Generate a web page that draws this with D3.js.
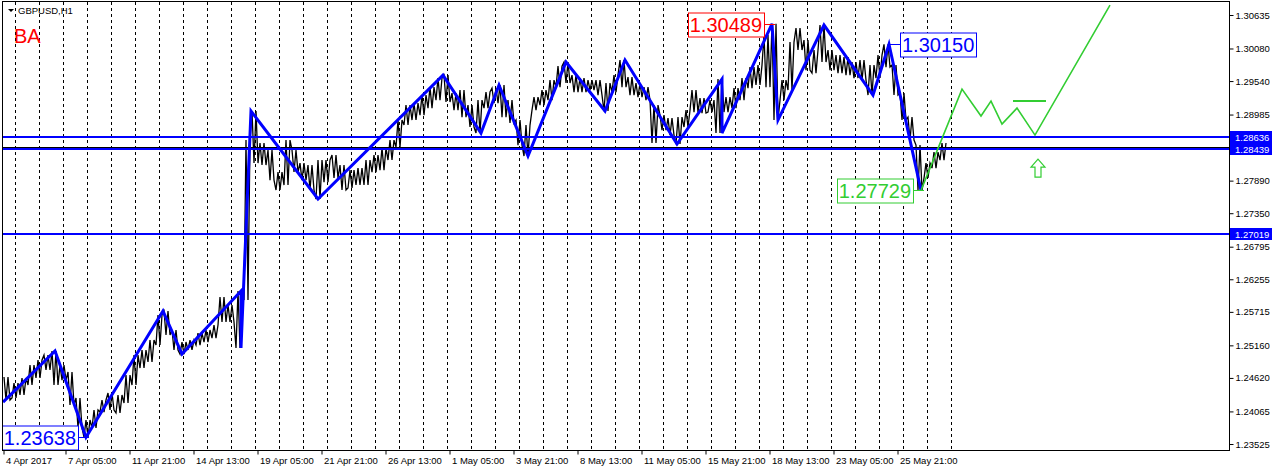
<!DOCTYPE html>
<html>
<head>
<meta charset="utf-8">
<script src="https://cdn.jsdelivr.net/npm/d3@7"></script>
<style>
body { margin: 0; background: #fff; }
svg { display: block; font-family: "Liberation Sans", Arial, sans-serif; }
</style>
</head>
<body>
<script>
var w = 1272;
var h = 468;
var plotLeft = 3, plotRight = 1229, plotTop = 2, plotBottom = 450;

// hourly bars grouped in blocks of 8 (high / low of each block)
var blockSize = 8;
var barHigh = [1.24635, 1.24536, 1.24619, 1.24834, 1.24917, 1.24999, 1.25066, 1.24834, 1.24718, 1.24287,
	1.23923, 1.24088, 1.24254, 1.24370, 1.24337, 1.24668, 1.24999, 1.25083, 1.25248, 1.25662,
	1.25728, 1.25414, 1.25215, 1.25248, 1.25364, 1.25414, 1.25497, 1.25961, 1.25828, 1.26060,
	1.28562, 1.29043, 1.28513, 1.28397, 1.28032, 1.28562, 1.28397, 1.28181, 1.28148, 1.28231,
	1.28231, 1.28314, 1.28148, 1.28065, 1.28098, 1.28231, 1.28314, 1.28430, 1.28562, 1.28894,
	1.29142, 1.29175, 1.29308, 1.29440, 1.29590, 1.29639, 1.29341, 1.29391, 1.29142, 1.29225,
	1.29358, 1.29424, 1.29474, 1.29225, 1.28894, 1.28811, 1.29275, 1.29391, 1.29556, 1.29788,
	1.29855, 1.29639, 1.29590, 1.29556, 1.29556, 1.29507, 1.29639, 1.29888, 1.29606, 1.29507,
	1.29440, 1.29142, 1.28976, 1.28927, 1.28943, 1.29059, 1.29391, 1.29258, 1.29225, 1.29573,
	1.29275, 1.29424, 1.29590, 1.29772, 1.29805, 1.30302, 1.30489, 1.29556, 1.30186, 1.30418,
	1.30219, 1.30054, 1.30468, 1.30054, 1.29971, 1.29938, 1.29855, 1.29888, 1.29805, 1.29971,
	1.30150, 1.29805, 1.29341, 1.28943, 1.28479, 1.28181, 1.28363, 1.28513];
var barLow = [1.24254, 1.24287, 1.24337, 1.24502, 1.24619, 1.24751, 1.24502, 1.24585, 1.24171, 1.23790,
	1.23638, 1.23790, 1.24055, 1.24088, 1.24039, 1.24204, 1.24502, 1.24784, 1.24884, 1.25165,
	1.25331, 1.25083, 1.25016, 1.25083, 1.25165, 1.25215, 1.25281, 1.25547, 1.25547, 1.25116,
	1.25911, 1.28181, 1.28148, 1.27899, 1.27734, 1.27817, 1.28032, 1.27899, 1.27734, 1.27585,
	1.27866, 1.27933, 1.27734, 1.27767, 1.27817, 1.27817, 1.28032, 1.28065, 1.28231, 1.28446,
	1.28811, 1.28894, 1.28976, 1.29092, 1.29225, 1.29192, 1.29059, 1.28943, 1.28778, 1.28678,
	1.29092, 1.29175, 1.28943, 1.28844, 1.28479, 1.28297, 1.29059, 1.29142, 1.29225, 1.29440,
	1.29507, 1.29358, 1.29358, 1.29391, 1.29308, 1.29043, 1.29358, 1.29440, 1.29308, 1.29275,
	1.29225, 1.28513, 1.28728, 1.28645, 1.28496, 1.28778, 1.29026, 1.29010, 1.29026, 1.28678,
	1.29026, 1.29092, 1.29225, 1.29424, 1.29474, 1.29440, 1.28894, 1.29225, 1.29391, 1.30054,
	1.29722, 1.29672, 1.29855, 1.29722, 1.29672, 1.29639, 1.29590, 1.29556, 1.29308, 1.29590,
	1.29772, 1.29308, 1.28894, 1.28562, 1.27729, 1.27933, 1.28098, 1.28231];

// zigzag (bar index, price)
var zzIndex = [0, 52, 83, 160, 179, 238, 238, 248, 315, 440, 478, 496, 525, 563, 602, 622, 674, 719, 719, 769, 775, 821, 870, 886, 918];
var zzPrice = [1.24220, 1.25066, 1.23638, 1.25728, 1.25016, 1.26060, 1.25116, 1.29043, 1.27585, 1.29639, 1.28678, 1.29474, 1.28297,
	1.29855, 1.29043, 1.29888, 1.28496, 1.29573, 1.28678, 1.30489, 1.28894, 1.30468, 1.29308, 1.30150, 1.27729];

// forecast path
var fcIndex = [918, 959, 978, 988, 999, 1014, 1032, 1107];
var fcPrice = [1.27729, 1.29407, 1.28960, 1.29208, 1.28827, 1.29092, 1.28645, 1.30799];
var fcFlatIndex = [1010, 1043];
var fcFlatPrice = 1.29208;
var arrowIndex = 1035;
var arrowPrice = 1.28247;

var levelPrices = [1.28636, 1.28439, 1.27019];
var bidPrice = 1.28450;

var markIndex = [769, 886, 918, 83];
var markPrice = [1.30489, 1.30150, 1.27729, 1.23638];
var markColor = ["#ff0000", "#0000ff", "#32cd32", "#0000ff"];
var markSide = ["left", "right", "left", "left"];

var yTicks = [1.30635, 1.30080, 1.29540, 1.28985, 1.27890, 1.27350, 1.26795, 1.26255, 1.25715, 1.25160, 1.24620, 1.24065, 1.23525];
var xTickIndex = [0, 62, 126, 190, 254, 318, 382, 446, 510, 574, 638, 702, 766, 830, 894];
var xTickLabels = ["4 Apr 2017", "7 Apr 05:00", "11 Apr 21:00", "14 Apr 13:00", "19 Apr 05:00", "21 Apr 21:00",
	"26 Apr 13:00", "1 May 05:00", "3 May 21:00", "8 May 13:00", "11 May 05:00", "15 May 21:00",
	"18 May 13:00", "23 May 05:00", "25 May 21:00"];
var lastBar = 946;

var xScale = d3.scaleLinear().domain([0, plotRight - plotLeft]).range([plotLeft, plotRight]);
var yScale = d3.scaleLinear().domain([1.23525, 1.30635]).range([444, 15]);

var svg = d3.select("body").append("svg")
	.attr("width", w)
	.attr("height", h);

var clip = svg.append("clipPath").attr("id", "plot")
	.append("rect")
	.attr("x", plotLeft).attr("y", plotTop)
	.attr("width", plotRight - plotLeft).attr("height", plotBottom - plotTop);

var plot = svg.append("g").attr("clip-path", "url(#plot)");

// day separators
var days = d3.range(12, lastBar + 6, 24);
plot.selectAll("line.grid")
	.data(days)
	.enter()
	.append("line")
	.attr("class", "grid")
	.attr("x1", function(d) { return xScale(d) + 0.5; })
	.attr("x2", function(d) { return xScale(d) + 0.5; })
	.attr("y1", plotTop)
	.attr("y2", plotBottom)
	.attr("stroke", "#000")
	.attr("stroke-dasharray", "3,3");

// price bars
var pts = [];
barHigh.forEach(function(hi, k) {
	var lo = barLow[k];
	var x0 = blockSize * k;
	var mid = (hi + lo) / 2;
	var next = k < barHigh.length - 1 ? (barHigh[k + 1] + barLow[k + 1]) / 2 : mid;
	var seq = next >= mid ? [lo, hi, lo, hi] : [hi, lo, hi, lo];
	seq.forEach(function(p, j) {
		pts.push([xScale(x0 + 1 + j * 2), yScale(p)]);
	});
});
plot.append("path")
	.attr("d", d3.line()(pts))
	.attr("fill", "none")
	.attr("stroke", "#000")
	.attr("stroke-width", 1.3);

// bid line
plot.append("line")
	.attr("x1", plotLeft).attr("x2", plotRight)
	.attr("y1", Math.round(yScale(bidPrice)) + 0.5)
	.attr("y2", Math.round(yScale(bidPrice)) + 0.5)
	.attr("stroke", "#000");

// horizontal levels
plot.selectAll("line.level")
	.data(levelPrices)
	.enter()
	.append("line")
	.attr("class", "level")
	.attr("x1", plotLeft).attr("x2", plotRight)
	.attr("y1", function(d) { return Math.round(yScale(d)) + 1; })
	.attr("y2", function(d) { return Math.round(yScale(d)) + 1; })
	.attr("stroke", "#0000ff")
	.attr("stroke-width", 2);

// zigzag
var zz = zzIndex.map(function(d, i) { return [xScale(d), yScale(zzPrice[i])]; });
plot.append("path")
	.attr("d", d3.line()(zz))
	.attr("fill", "none")
	.attr("stroke", "#0000ff")
	.attr("stroke-width", 3)
	.attr("stroke-linejoin", "miter");

// forecast
var fc = fcIndex.map(function(d, i) { return [xScale(d), yScale(fcPrice[i])]; });
plot.append("path")
	.attr("d", d3.line()(fc))
	.attr("fill", "none")
	.attr("stroke", "#32cd32")
	.attr("stroke-width", 1.6);
plot.append("line")
	.attr("x1", xScale(fcFlatIndex[0])).attr("x2", xScale(fcFlatIndex[1]))
	.attr("y1", yScale(fcFlatPrice)).attr("y2", yScale(fcFlatPrice))
	.attr("stroke", "#32cd32")
	.attr("stroke-width", 2);

// up arrow
var ax = xScale(arrowIndex), ay = yScale(arrowPrice);
plot.append("path")
	.attr("d", "M" + ax + "," + ay + " l-7,8 h4 v10 h6 v-10 h4 z")
	.attr("fill", "#fff")
	.attr("stroke", "#32cd32")
	.attr("stroke-width", 1.2);

// labels at swing points
markIndex.forEach(function(d, i) {
	var vx = xScale(d), vy = Math.round(yScale(markPrice[i])) + 0.5;
	var g = plot.append("g");
	var t = g.append("text")
		.attr("font-size", 20)
		.attr("fill", markColor[i])
		.text(markPrice[i].toFixed(5));
	var tw = t.node().getComputedTextLength();
	var bw = tw + 4, bh = 24;
	var bx = markSide[i] === "left" ? vx - 8 - bw : vx + 11;
	g.insert("rect", "text")
		.attr("x", Math.round(bx) + 0.5).attr("y", Math.round(vy - bh / 2))
		.attr("width", Math.round(bw)).attr("height", bh)
		.attr("fill", "#fff")
		.attr("stroke", markColor[i]);
	t.attr("x", bx + 2).attr("y", vy + 7);
	var lx1 = markSide[i] === "left" ? bx + bw : vx;
	var lx2 = markSide[i] === "left" ? vx + 3 : bx;
	g.append("line")
		.attr("x1", lx1).attr("x2", lx2)
		.attr("y1", vy).attr("y2", vy)
		.attr("stroke", markColor[i]);
});

// frame
svg.append("rect")
	.attr("x", plotLeft - 0.5).attr("y", plotTop - 0.5)
	.attr("width", plotRight - plotLeft + 1).attr("height", plotBottom - plotTop + 1)
	.attr("fill", "none")
	.attr("stroke", "#000");

// price axis
var yAxis = d3.axisRight(yScale)
	.tickValues(yTicks)
	.tickSize(4)
	.tickFormat(d3.format(".5f"));
var ya = svg.append("g")
	.attr("transform", "translate(" + (plotRight + 0.5) + ",0)")
	.call(yAxis);
ya.select(".domain").remove();
ya.selectAll("text").attr("font-size", 9.5).attr("font-family", "Liberation Sans, Arial, sans-serif").attr("x", 6).attr("fill", "#000");

// level tags on the price axis
var tags = svg.selectAll("g.tag")
	.data(levelPrices)
	.enter()
	.append("g")
	.attr("class", "tag");
tags.append("rect")
	.attr("x", plotRight + 1)
	.attr("y", function(d) { return Math.round(yScale(d)) - 5; })
	.attr("width", w - plotRight - 1)
	.attr("height", 12)
	.attr("fill", "#0000ff");
tags.append("text")
	.attr("x", plotRight + 6)
	.attr("y", function(d) { return Math.round(yScale(d)) + 5; })
	.attr("font-size", 9.5)
	.attr("fill", "#fff")
	.text(function(d) { return d.toFixed(5); });

// time axis
var xAxis = d3.axisBottom(xScale)
	.tickValues(xTickIndex)
	.tickSize(4)
	.tickFormat(function(d, i) { return xTickLabels[i]; });
var xa = svg.append("g")
	.attr("transform", "translate(0.5," + (plotBottom + 0.5) + ")")
	.call(xAxis);
xa.select(".domain").remove();
xa.selectAll("text")
	.attr("font-size", 9.5)
	.attr("font-family", "Liberation Sans, Arial, sans-serif")
	.attr("text-anchor", "start")
	.attr("x", 2)
	.attr("fill", "#000");

// title
svg.append("path")
	.attr("d", "M8,9 h6 l-3,3 z")
	.attr("fill", "#000");
svg.append("text")
	.attr("x", 18).attr("y", 14)
	.attr("font-size", 9.5)
	.text("GBPUSD,H1");
svg.append("text")
	.attr("x", 14).attr("y", 43)
	.attr("font-size", 20)
	.attr("fill", "#ff0000")
	.text("BA");
</script>
</body>
</html>
